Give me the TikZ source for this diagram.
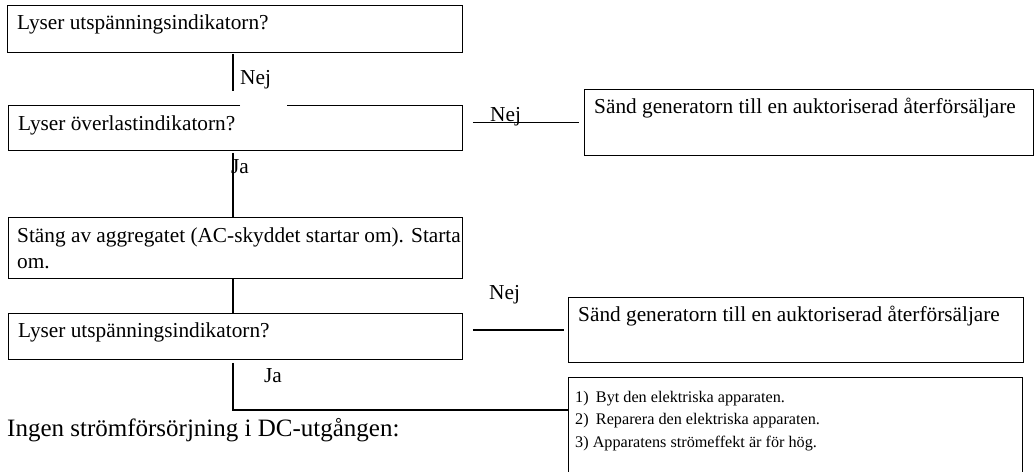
\documentclass[tikz,border=0pt]{standalone}
\usepackage{fontspec}
\setmainfont{Liberation Serif}
\usetikzlibrary{calc}
\tikzset{
  box/.style={draw, line width=0.9pt, inner sep=0pt, anchor=north west},
  btext/.style={anchor=base west, inner sep=0pt, font=\fontsize{21.3}{25.5}\selectfont},
  lbl/.style={anchor=base west, inner sep=0pt, font=\fontsize{21.3}{25.5}\selectfont},
  ltext/.style={anchor=base west, inner sep=0pt, font=\fontsize{16.2}{20}\selectfont},
  big/.style={anchor=base west, inner sep=0pt, font=\fontsize{25}{30}\selectfont},
  conn/.style={line width=1.2pt},
}
\begin{document}
\begin{tikzpicture}[x=1pt,y=-1pt]
\clip (0,0) rectangle (1035,471);
\coordinate (ax) at (233,0);
% boxes
\node[box, minimum width=455pt, minimum height=47pt] (b1) at (7,5) {};
\node[btext] (t1) at ($(b1.north west)+(10,24)$) {Lyser utspänningsindikatorn?};

\node[box, draw=none, minimum width=454pt, minimum height=45pt] (b2) at (8,105) {};
\draw[line width=0.9pt] ($(b2.north west)+(232,0)$) -- (b2.north west) -- (b2.south west)
  -- (b2.south east) -- (b2.north east) -- ($(b2.north east)+(-176,0)$);
\node[btext] (t2) at ($(b2.north west)+(10,25)$) {Lyser överlastindikatorn?};

\node[box, minimum width=449pt, minimum height=66pt] (s1) at (584,89) {};
\node[btext] (ts1) at ($(s1.north west)+(10,24)$) {Sänd generatorn till en auktoriserad återförsäljare};

\node[box, minimum width=454pt, minimum height=61pt] (b3) at (8,217) {};
\node[btext] (t3a) at ($(b3.north west)+(9,25)$) {Stäng av aggregatet (AC-skyddet startar om). Starta};
\node[btext] (t3b) at ($(b3.north west)+(9,51)$) {om.};

\node[box, minimum width=454pt, minimum height=46pt] (b4) at (8,313) {};
\node[btext] (t4) at ($(b4.north west)+(10,24)$) {Lyser utspänningsindikatorn?};

\node[box, minimum width=455pt, minimum height=65pt] (s2) at (568,297) {};
\node[btext] (ts2) at ($(s2.north west)+(10,24)$) {Sänd generatorn till en auktoriserad återförsäljare};

\node[box, minimum width=454pt, minimum height=100pt] (lb) at (568,377) {};
\node[ltext] (l1) at ($(lb.north west)+(7,25)$) {1)\hspace{0.45em}Byt den elektriska apparaten.};
\node[ltext] (l2) at ($(lb.north west)+(7,47.5)$) {2)\hspace{0.45em}Reparera den elektriska apparaten.};
\node[ltext] (l3) at ($(lb.north west)+(7,70)$) {3) Apparatens strömeffekt är för hög.};

\node[big] (title) at (7,436) {Ingen strömförsörjning i DC-utgången:};

% connectors
\draw[conn] ($(b1.south -| ax)+(0,1)$) -- ($(b1.south -| ax)+(0,38)$);
\node[lbl] (n1) at (240,84) {Nej};

\draw[conn] ($(s1.west -| b2.east)+(10,0)$) -- ($(s1.west)+(-5,0)$);
\node[lbl] (n2) at (490,121) {Nej};

\draw[conn] ($(b2.south -| ax)+(0,2)$) -- (b3.north -| ax);
\node[lbl] (j1) at (231,173) {Ja};

\draw[conn] (b3.south -| ax) -- (b4.north -| ax);

\draw[conn] ($(s2.west -| b4.east)+(10,0)$) -- ($(s2.west)+(-4,0)$);
\node[lbl] (n3) at (489,299) {Nej};

\coordinate (lj) at ($(lb.north west)+(0,33)$);
\draw[conn] ($(b4.south -| ax)+(0,3)$) |- (lj);
\node[lbl] (j2) at (264,382) {Ja};
\end{tikzpicture}
\end{document}
